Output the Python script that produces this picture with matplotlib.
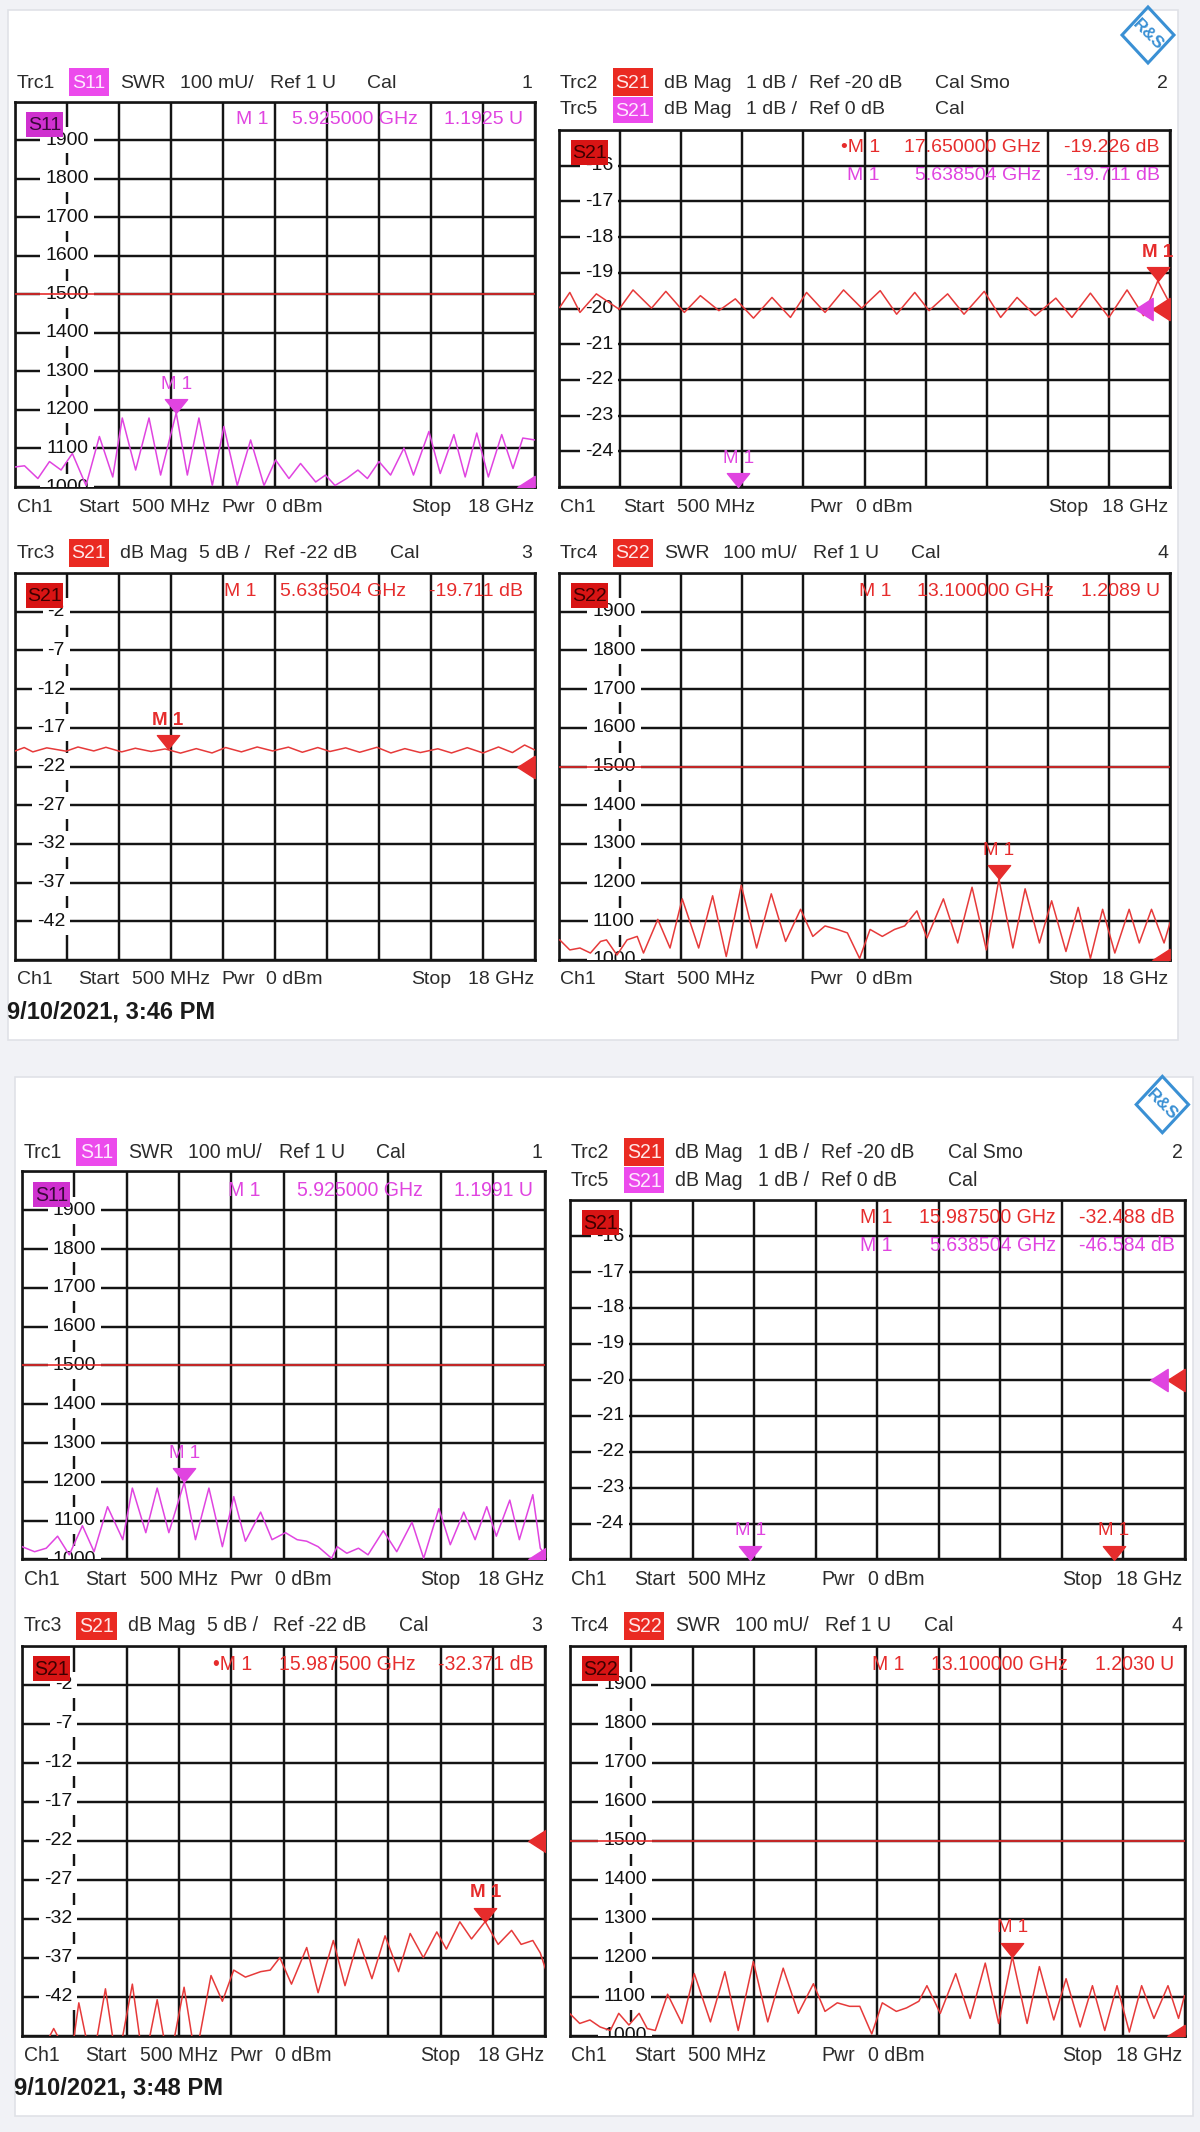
import numpy as np
import matplotlib
matplotlib.use('Agg')
import matplotlib.pyplot as plt
from matplotlib.patches import Rectangle, Polygon
from matplotlib.path import Path
import matplotlib.transforms as mtransforms

plt.rcParams['font.family'] = ['Liberation Sans', 'DejaVu Sans']

# ---------------------------------------------------------------- data
F_START, F_STOP = 0.5, 18.0          # GHz (Start 500 MHz, Stop 18 GHz)
N_DIV = 10

swr_ticks = [1900, 1800, 1700, 1600, 1500, 1400, 1300, 1200, 1100, 1000]   # mU, 100 mU/div
s21_fine_ticks = [-16, -17, -18, -19, -20, -21, -22, -23, -24]             # 1 dB/div
s21_coarse_ticks = [-2, -7, -12, -17, -22, -27, -32, -37, -42]            # 5 dB/div
SWR_LIMIT = 1500

# ---- screenshot 1 (3:46 PM)
s11_top_f = [0.50, 0.82, 1.27, 1.66, 2.05, 2.43, 2.89, 3.34, 3.79, 4.11, 4.56, 5.01, 5.40, 5.925,
             6.30, 6.69, 7.14, 7.53, 7.98, 8.43, 8.88, 9.27, 9.72, 10.11, 10.62, 10.95, 11.27, 11.66,
             12.04, 12.36, 12.75, 13.14, 13.59, 13.91, 14.43, 14.81, 15.27, 15.65, 16.04, 16.43,
             16.88, 17.26, 17.59, 18.0]
s11_top_v = [1052, 1055, 1022, 1066, 1044, 1087, 1004, 1131, 1026, 1179, 1044, 1179, 1031, 1192.5,
             1031, 1179, 1004, 1157, 1004, 1122, 1004, 1070, 1022, 1061, 1013, 1031, 1004, 1022,
             1044, 1022, 1066, 1031, 1101, 1031, 1144, 1035, 1136, 1026, 1140, 1026,
             1136, 1048, 1127, 1122]

s21_top_f = [0.52, 0.81, 1.10, 1.57, 2.22, 2.62, 3.15, 3.56, 4.09, 4.55, 5.08, 5.55, 6.07, 6.60,
             7.13, 7.59, 8.12, 8.65, 9.17, 9.70, 10.17, 10.69, 11.10, 11.63, 12.10, 12.68, 13.15,
             13.62, 14.14, 14.73, 15.19, 15.72, 16.25, 16.77, 17.24, 17.65, 18.0]
s21_top_v = [-19.97, -19.55, -20.11, -19.59, -20.02, -19.48, -19.99, -19.52, -20.11, -19.64,
             -20.06, -19.73, -20.27, -19.69, -20.25, -19.55, -20.11, -19.48, -19.99, -19.50,
             -20.16, -19.55, -20.06, -19.59, -20.16, -19.52, -20.25, -19.69, -20.20, -19.71,
             -20.25, -19.57, -20.25, -19.48, -20.20, -19.226, -19.87]

s22_top_f = [0.52, 0.81, 1.10, 1.40, 1.69, 1.86, 2.16, 2.45, 2.74, 2.92, 3.33, 3.68, 4.03, 4.50,
             4.90, 5.29, 5.72, 6.16, 6.58, 6.99, 7.42, 7.77, 8.12, 8.47, 8.76, 9.11, 9.41, 9.76,
             10.11, 10.40, 10.75, 11.04, 11.51, 11.92, 12.33, 12.74, 13.10, 13.50, 13.85, 14.26,
             14.61, 15.02, 15.37, 15.72, 16.07, 16.42, 16.83, 17.12, 17.47, 17.83, 18.00]
s22_top_v = [1052, 1026, 1031, 1018, 1048, 1052, 1013, 1052, 1061, 1018, 1105, 1031, 1158, 1031,
             1166, 1009, 1193, 1031, 1171, 1048, 1131, 1061, 1088, 1079, 1070, 1004, 1079, 1061,
             1079, 1088, 1127, 1057, 1158, 1044, 1188, 1026, 1208.9, 1031, 1184, 1044,
             1153, 1022, 1136, 1004, 1131, 1018, 1131, 1044, 1131, 1044, 1096]

# ---- screenshot 2 (3:48 PM)
s11_bot_f = [0.50, 0.92, 1.31, 1.69, 2.08, 2.52, 2.91, 3.36, 3.87, 4.19, 4.64, 5.02, 5.41, 5.925,
             6.30, 6.75, 7.20, 7.58, 7.97, 8.48, 8.86, 9.31, 9.70, 10.02, 10.40, 10.85, 11.04,
             11.36, 11.75, 12.07, 12.58, 13.03, 13.54, 13.93, 14.44, 14.82, 15.27, 15.65, 16.04,
             16.36, 16.81, 17.13, 17.58, 17.83, 18.0]
s11_bot_v = [1033, 1020, 1029, 1060, 1012, 1087, 1020, 1136, 1051, 1184, 1069, 1184, 1069, 1199.1,
             1051, 1184, 1033, 1162, 1047, 1122, 1051, 1069, 1051, 1047, 1033, 1003, 1033,
             1016, 1029, 1012, 1074, 1020, 1096, 1003, 1131, 1038, 1122, 1051, 1136,
             1060, 1153, 1051, 1167, 1029, 1012]

s21_bot_f = [0.50, 1.30, 1.56, 1.82, 2.10, 2.40, 2.84, 3.29, 3.68, 4.19, 4.57, 5.02, 5.41, 5.92,
             6.30, 6.82, 7.20, 7.58, 7.97, 8.48, 8.80, 9.12, 9.51, 10.02, 10.40, 10.91, 11.30,
             11.75, 12.20, 12.64, 13.09, 13.48, 13.92, 14.37, 14.69, 15.14, 15.53, 15.9875,
             16.42, 16.87, 17.19, 17.58, 17.83, 18.0]
s21_bot_v = [-50, -48, -46.1, -48, -51, -42.8, -51, -41.0, -51, -40.4, -51, -42.4, -51, -40.8,
             -50, -39.3, -42.6, -38.6, -39.5, -38.8, -38.6, -37.0, -40.4, -35.7, -41.5, -34.8, -40.6,
             -34.6, -39.7, -34.2, -38.8, -33.9, -37.0, -33.7, -35.9, -32.4, -34.6, -32.371,
             -35.3, -33.5, -35.3, -34.8, -36.4, -38.4]

s22_bot_f = [0.50, 0.79, 1.08, 1.37, 1.66, 1.90, 2.19, 2.48, 2.71, 2.94, 3.29, 3.70, 4.05, 4.51,
             4.92, 5.30, 5.73, 6.14, 6.58, 7.01, 7.44, 7.77, 8.12, 8.47, 8.76, 9.10, 9.40, 9.80,
             10.09, 10.44, 10.67, 11.05, 11.49, 11.90, 12.33, 12.71, 13.10, 13.52, 13.87, 14.28,
             14.63, 15.03, 15.38, 15.73, 16.08, 16.43, 16.78, 17.13, 17.53, 17.83, 18.0]
s22_bot_v = [1057, 1031, 1040, 1022, 1013, 1057, 1027, 1057, 1018, 1013, 1106, 1031, 1159, 1035,
             1164, 1013, 1190, 1035, 1173, 1057, 1133, 1062, 1084, 1075, 1075, 1004, 1084, 1062,
             1071, 1088, 1128, 1057, 1159, 1044, 1186, 1031, 1203.0, 1031, 1177, 1040,
             1146, 1022, 1128, 1013, 1128, 1009, 1128, 1044, 1128, 1044, 1102]

# ---------------------------------------------------------------- style
W, H, DPI = 1200, 2132, 100
FS = 14
MAG = '#e044e0'
RED = '#e62c2c'
TRACE_RED = '#e63a3a'
GRID = '#141414'
TXT = '#2b2b2b'
BLUE = '#3a90d4'
MS = 16

MK_DOWN = Path([(-1, 0.62), (1, 0.62), (0, -0.62), (-1, 0.62)],
               [Path.MOVETO, Path.LINETO, Path.LINETO, Path.CLOSEPOLY])
MK_LEFT = Path([(0.78, 1), (0.78, -1), (-0.78, 0), (0.78, 1)],
               [Path.MOVETO, Path.LINETO, Path.LINETO, Path.CLOSEPOLY])

fig = plt.figure(figsize=(W / DPI, H / DPI), dpi=DPI)
fig.patch.set_facecolor('#f1f2f6')


class Screen:
    def __init__(self, ox, oy, s):
        self.ox, self.oy, self.s = ox, oy, s

    def pt(self, x, y):
        return (self.ox + self.s * x) / W, 1.0 - (self.oy + self.s * y) / H


def rect(scr, x0, y0, x1, y1, **kw):
    l, t = scr.pt(x0, y0)
    r, b = scr.pt(x1, y1)
    p = Rectangle((l, b), r - l, t - b, transform=fig.transFigure, **kw)
    fig.add_artist(p)
    return p


def txt(scr, x, y, s, ha='left', color=TXT, size=FS, weight='normal'):
    fx, fy = scr.pt(x, y)
    fig.text(fx, fy, s, ha=ha, va='center', fontsize=size * scr.s, color=color,
             fontweight=weight, zorder=7)


def badge(scr, x0, y0, x1, y1, s, bg, fg):
    rect(scr, x0, y0, x1, y1, fc=bg, ec='none', zorder=5)
    txt(scr, (x0 + x1) / 2, (y0 + y1) / 2 + 1, s, ha='center', color=fg)


BOX = {1: (15, 101.5, 535, 487), 2: (559, 130, 1170, 487),
       3: (15, 573, 535, 960), 4: (559, 573, 1170, 960)}


def panel_axes(scr, box, ylo, yhi):
    x0, y0, x1, y1 = box
    l, t = scr.pt(x0, y0)
    r, b = scr.pt(x1, y1)
    ax = fig.add_axes([l, b, r - l, t - b])
    ax.set_facecolor('white')
    ax.set_xlim(F_START, F_STOP)
    ax.set_ylim(ylo, yhi)
    ax.set_xticks(np.linspace(F_START, F_STOP, N_DIV + 1))
    ax.set_yticks(np.linspace(ylo, yhi, N_DIV + 1))
    ax.tick_params(length=0, labelbottom=False, labelleft=False)
    ax.grid(True, color=GRID, lw=1.75)
    ax.set_axisbelow(True)
    for sp in ax.spines.values():
        sp.set_color(GRID)
        sp.set_linewidth(1.9)
    return ax


def y_labels(ax, box, ticks, xpix, ha):
    x0, _, x1, _ = box
    tr = mtransforms.blended_transform_factory(ax.transAxes, ax.transData)
    xf = (xpix - x0) / (x1 - x0)
    for v in ticks:
        ax.text(xf, v, str(v), transform=tr, ha=ha, va='center', fontsize=FS, color='#111111',
                bbox=dict(boxstyle='square,pad=0.25', fc='white', ec='none'),
                zorder=3, clip_on=True)


def m1(ax, f, v, color, bold=False):
    tip = 0.31 * MS * DPI / 72
    tr = mtransforms.offset_copy(ax.transData, fig=fig, x=0, y=tip, units='dots')
    ax.plot([f], [v], ls='none', marker=MK_DOWN, ms=MS, color=color, mec=color,
            transform=tr, clip_on=False, zorder=6)
    ax.annotate('M 1', xy=(f, v), xytext=(0, 2 * tip + 15), textcoords='offset pixels',
                ha='center', va='center', fontsize=13.5, color=color,
                fontweight='bold' if bold else 'normal', zorder=6, annotation_clip=False)


def ref_tri(ax, v, color, shift=0):
    half = 0.39 * MS * DPI / 72
    base = mtransforms.blended_transform_factory(ax.transAxes, ax.transData)
    tr = mtransforms.offset_copy(base, fig=fig, x=-half - shift, units='dots')
    ax.plot([1.0], [v], ls='none', marker=MK_LEFT, ms=MS, color=color, mec=color,
            transform=tr, clip_on=True, zorder=6)


def readout(scr, y, items, color):
    for s, xr in items:
        txt(scr, xr, y, s, ha='right', color=color)


def footer(scr, y, right_col):
    if not right_col:
        items = [('Ch1', 17), ('Start', 78), ('500 MHz', 132), ('Pwr', 221), ('0 dBm', 266), ('Stop', 411)]
        end = 534
    else:
        items = [('Ch1', 560), ('Start', 623), ('500 MHz', 677), ('Pwr', 809), ('0 dBm', 856), ('Stop', 1048)]
        end = 1168
    for s, x in items:
        txt(scr, x, y, s)
    txt(scr, end, y, '18 GHz', ha='right')


def draw_screen(scr, card, date, s11, s11_mk, s11_read, p2_trace, p2_marks, p2_read,
                p3_trace, p3_mk, p3_read, s22, s22_mk, s22_read):
    rect(scr, *card, fc='white', ec='#e0e2e7', lw=1.2, zorder=-1)

    # logo
    cx, cy = 1148, 35
    pts = [scr.pt(cx, cy - 28), scr.pt(cx + 26, cy), scr.pt(cx, cy + 28), scr.pt(cx - 26, cy)]
    fig.add_artist(Polygon(pts, closed=True, transform=fig.transFigure, fc='none', ec=BLUE, lw=2.2))
    fx, fy = scr.pt(cx, cy)
    fig.text(fx, fy, 'R&S', ha='center', va='center', rotation=-45, fontsize=12.5,
             color=BLUE, fontweight='bold')

    # ---- headers
    txt(scr, 17, 83, 'Trc1'); badge(scr, 69, 68, 109, 96, 'S11', '#ec4aec', '#ffe8ff')
    for s, x in [('SWR', 120), ('100 mU/', 180), ('Ref 1 U', 270), ('Cal', 367)]:
        txt(scr, x, 83, s)
    txt(scr, 532, 83, '1', ha='right')

    txt(scr, 560, 83, 'Trc2'); badge(scr, 613, 68, 653, 96, 'S21', '#ea2a22', '#ffe8e8')
    for s, x in [('dB Mag', 664), ('1 dB /', 746), ('Ref -20 dB', 809), ('Cal Smo', 935)]:
        txt(scr, x, 83, s)
    txt(scr, 1168, 83, '2', ha='right')
    txt(scr, 560, 110, 'Trc5'); badge(scr, 613, 97, 653, 123, 'S21', '#ec4aec', '#ffe8ff')
    for s, x in [('dB Mag', 664), ('1 dB /', 746), ('Ref 0 dB', 809), ('Cal', 935)]:
        txt(scr, x, 110, s)

    txt(scr, 17, 553, 'Trc3'); badge(scr, 69, 539, 109, 567, 'S21', '#ea2a22', '#ffe8e8')
    for s, x in [('dB Mag', 120), ('5 dB /', 199), ('Ref -22 dB', 264), ('Cal', 390)]:
        txt(scr, x, 553, s)
    txt(scr, 532, 553, '3', ha='right')

    txt(scr, 560, 553, 'Trc4'); badge(scr, 613, 539, 653, 567, 'S22', '#ea2a22', '#ffe8e8')
    for s, x in [('SWR', 664), ('100 mU/', 723), ('Ref 1 U', 813), ('Cal', 911)]:
        txt(scr, x, 553, s)
    txt(scr, 1168, 553, '4', ha='right')

    # ---- panel 1 : S11 SWR
    ax1 = panel_axes(scr, BOX[1], 1000, 2000)
    y_labels(ax1, BOX[1], swr_ticks, 67, 'center')
    ax1.plot(s11[0], s11[1], color=MAG, lw=1.1, zorder=4)
    ax1.axhline(SWR_LIMIT, color=RED, lw=1.2, zorder=4.5)
    m1(ax1, s11_mk[0], s11_mk[1], MAG)
    ref_tri(ax1, 1000, MAG)
    badge(scr, 26, 112, 63, 137, 'S11', '#cf30cf', '#3a083a')
    readout(scr, 120, s11_read, MAG)

    # ---- panel 2 : S21 fine
    ax2 = panel_axes(scr, BOX[2], -25, -15)
    y_labels(ax2, BOX[2], s21_fine_ticks, 613, 'right')
    if p2_trace is not None:
        ax2.plot(p2_trace[0], p2_trace[1], color=TRACE_RED, lw=1.1, zorder=4)
    for f, v, c, b in p2_marks:
        m1(ax2, f, v, c, b)
    ref_tri(ax2, -20, RED)
    ref_tri(ax2, -20, MAG, shift=17)
    badge(scr, 571, 140, 608, 165, 'S21', '#d81414', '#3d0000')
    readout(scr, 147, p2_read[0], RED)
    readout(scr, 175, p2_read[1], MAG)

    # ---- panel 3 : S21 coarse
    ax3 = panel_axes(scr, BOX[3], -47, 3)
    y_labels(ax3, BOX[3], s21_coarse_ticks, 65, 'right')
    ax3.plot(p3_trace[0], p3_trace[1], color=TRACE_RED, lw=1.1, zorder=4)
    m1(ax3, p3_mk[0], p3_mk[1], RED, True)
    ref_tri(ax3, -22, RED)
    badge(scr, 26, 583, 63, 608, 'S21', '#d81414', '#3d0000')
    readout(scr, 591, p3_read, RED)

    # ---- panel 4 : S22 SWR
    ax4 = panel_axes(scr, BOX[4], 1000, 2000)
    y_labels(ax4, BOX[4], swr_ticks, 614, 'center')
    ax4.plot(s22[0], s22[1], color=TRACE_RED, lw=1.1, zorder=4)
    ax4.axhline(SWR_LIMIT, color=RED, lw=1.2, zorder=4.5)
    m1(ax4, s22_mk[0], s22_mk[1], RED)
    ref_tri(ax4, 1000, RED)
    badge(scr, 571, 583, 608, 608, 'S22', '#d81414', '#3d0000')
    readout(scr, 591, s22_read, RED)

    # ---- footers / date
    footer(scr, 507, False)
    footer(scr, 507, True)
    footer(scr, 980, False)
    footer(scr, 980, True)
    txt(scr, 7, 1012, date, color='#1a1a1a', size=17, weight='bold')


top = Screen(0, 0, 1.0)
draw_screen(
    top, (7.7, 10, 1178, 1040), '9/10/2021, 3:46 PM',
    (s11_top_f, s11_top_v), (5.925, 1192.5),
    [('M 1', 268), ('5.925000 GHz', 418), ('1.1925 U', 523)],
    (s21_top_f, s21_top_v),
    [(17.65, -19.226, RED, True), (5.638504, -25, MAG, False)],
    ([('\u2022M 1', 880), ('17.650000 GHz', 1041), ('-19.226 dB', 1160)],
     [('M 1', 880), ('5.638504 GHz', 1041), ('-19.711 dB', 1160)]),
    (s21_top_f, s21_top_v), (5.638504, -19.711),
    [('M 1', 256), ('5.638504 GHz', 406), ('-19.711 dB', 523)],
    (s22_top_f, s22_top_v), (13.1, 1208.9),
    [('M 1', 891), ('13.100000 GHz', 1054), ('1.2089 U', 1160)],
)

bottom = Screen(6.9, 1069.3, 1.0065)
draw_screen(
    bottom, (7.7, 7.6, 1178, 1040), '9/10/2021, 3:48 PM',
    (s11_bot_f, s11_bot_v), (5.925, 1199.1),
    [('M 1', 252), ('5.925000 GHz', 413), ('1.1991 U', 523)],
    None,
    [(15.9875, -25, RED, False), (5.638504, -25, MAG, False)],
    ([('M 1', 880), ('15.987500 GHz', 1042), ('-32.488 dB', 1160)],
     [('M 1', 880), ('5.638504 GHz', 1042), ('-46.584 dB', 1160)]),
    (s21_bot_f, s21_bot_v), (15.9875, -32.371),
    [('\u2022M 1', 244), ('15.987500 GHz', 406), ('-32.371 dB', 523)],
    (s22_bot_f, s22_bot_v), (13.1, 1203.0),
    [('M 1', 892), ('13.100000 GHz', 1054), ('1.2030 U', 1160)],
)

fig.savefig('out.png', dpi=DPI, facecolor=fig.get_facecolor())
